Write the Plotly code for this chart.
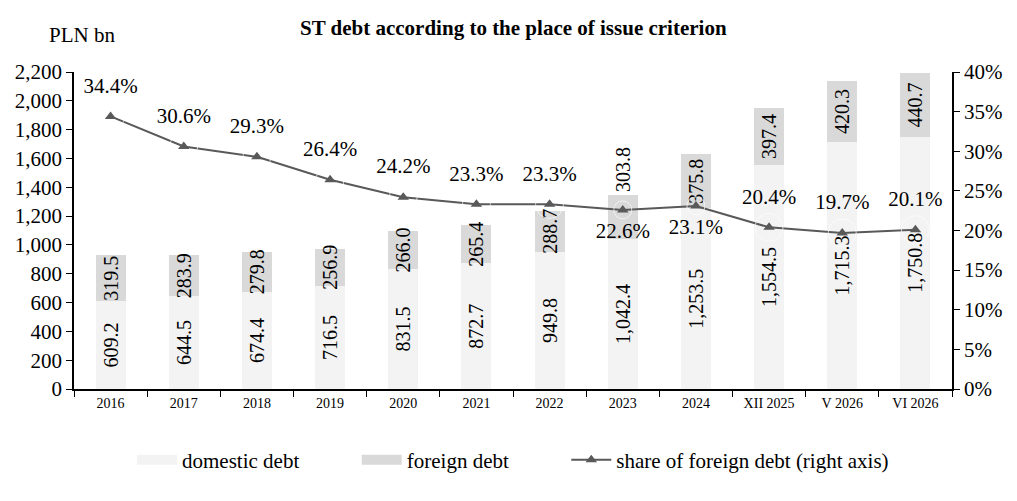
import plotly.graph_objects as go

categories = ["2016", "2017", "2018", "2019", "2020", "2021", "2022", "2023", "2024",
              "XII 2025", "V 2026", "VI 2026"]
domestic = [609.2, 644.5, 674.4, 716.5, 831.5, 872.7, 949.8, 1042.4, 1253.5, 1554.5, 1715.3, 1750.8]
foreign = [319.5, 283.9, 279.8, 256.9, 266.0, 265.4, 288.7, 303.8, 375.8, 397.4, 420.3, 440.7]
share = [34.4, 30.6, 29.3, 26.4, 24.2, 23.3, 23.3, 22.6, 23.1, 20.4, 19.7, 20.1]
share_label_pos = ["top center"] * 7 + ["bottom center", "bottom center"] + ["top center"] * 3
foreign_label_pos = ["inside"] * 7 + ["outside"] + ["inside"] * 4

FONT = "Liberation Serif"
LINE_COLOR = "#595959"
DOM_COLOR = "#f3f3f3"
FOR_COLOR = "#d9d9d9"
NB = "\u00a0"

fig = go.Figure()
fig.add_trace(go.Bar(
    x=categories, y=domestic, name="domestic debt", showlegend=False,
    marker=dict(color=DOM_COLOR, line=dict(width=0)),
    text=[f"{v:,.1f}" for v in domestic], textposition="inside",
    insidetextanchor="middle", textangle=-90,
    textfont=dict(family=FONT, size=20, color="black"),
    hoverinfo="skip",
))
fig.add_trace(go.Bar(
    x=categories, y=foreign, name="foreign debt", showlegend=False,
    marker=dict(color=FOR_COLOR, line=dict(width=0)),
    text=[f"{v:,.1f}" for v in foreign], textposition=foreign_label_pos,
    insidetextanchor="middle", textangle=-90,
    textfont=dict(family=FONT, size=20, color="black"),
    cliponaxis=False,
    hoverinfo="skip",
))
fig.add_trace(go.Scatter(
    x=categories, y=share, name="share of foreign debt (right axis)", showlegend=False,
    yaxis="y2", mode="lines+markers",
    line=dict(color=LINE_COLOR, width=2),
    marker=dict(symbol="triangle-up", size=10, color=LINE_COLOR),
    hoverinfo="skip",
))
# percentage labels, offset from the markers by an invisible larger marker
fig.add_trace(go.Scatter(
    x=categories, y=share, showlegend=False, yaxis="y2", mode="markers+text",
    marker=dict(size=[28 if p.startswith("top") else 18 for p in share_label_pos],
                color="rgba(0,0,0,0)"),
    text=[f"{v:.1f}%" for v in share], textposition=share_label_pos,
    textfont=dict(family=FONT, size=21, color="black"),
    cliponaxis=False, hoverinfo="skip",
))
# legend entries (wide swatches as in the reference)
fig.add_trace(go.Scatter(x=[None], y=[None], mode="lines", name="domestic debt" + NB * 10,
                         line=dict(color=DOM_COLOR, width=10)))
fig.add_trace(go.Scatter(x=[None], y=[None], mode="lines", name="foreign debt" + NB * 10,
                         line=dict(color=FOR_COLOR, width=10)))
fig.add_trace(go.Scatter(x=[None], y=[None], mode="lines+markers",
                         name="share of foreign debt (right axis)",
                         line=dict(color=LINE_COLOR, width=2),
                         marker=dict(symbol="triangle-up", size=10, color=LINE_COLOR)))

fig.update_layout(
    width=1009, height=493,
    margin=dict(l=66, r=65, t=64, b=112, autoexpand=False),
    paper_bgcolor="white", plot_bgcolor="white",
    barmode="stack", bargap=0.59,
    font=dict(family=FONT, size=21, color="black"),
    uniformtext=dict(minsize=20, mode="show"),
    showlegend=True,
    legend=dict(orientation="h", x=0.5, xanchor="center", y=-0.16, yanchor="top",
                font=dict(family=FONT, size=21), itemwidth=40, traceorder="normal"),
    xaxis=dict(
        automargin=False, range=[-0.5, len(categories) - 0.5],
        showline=True, linecolor="black", linewidth=1.5,
        ticks="outside", tickson="boundaries", ticklen=6, tickcolor="black",
        tickfont=dict(family=FONT, size=14), showgrid=False,
    ),
    yaxis=dict(
        automargin=False,
        range=[0, 2200], dtick=200, tickformat=",d",
        showline=True, linecolor="black", linewidth=1.5,
        ticks="outside", ticklen=6, tickcolor="black",
        tickfont=dict(family=FONT, size=21), showgrid=False, zeroline=False,
    ),
    yaxis2=dict(
        automargin=False,
        range=[0, 40], dtick=5, ticksuffix="%", overlaying="y", side="right",
        showline=True, linecolor="black", linewidth=1.5,
        ticks="outside", ticklen=6, tickcolor="black",
        tickfont=dict(family=FONT, size=21), showgrid=False, zeroline=False,
    ),
    annotations=[
        dict(text="<b>ST debt according to the place of issue criterion</b>",
             xref="paper", yref="paper", x=0.5, y=1, yshift=44, xanchor="center", yanchor="middle",
             showarrow=False, font=dict(family=FONT, size=21)),
        dict(text="PLN bn", xref="paper", yref="paper", x=0, xshift=-27, y=1, yshift=37,
             xanchor="left", yanchor="middle", showarrow=False,
             font=dict(family=FONT, size=21)),
    ],
)

fig.write_html("out.html")
